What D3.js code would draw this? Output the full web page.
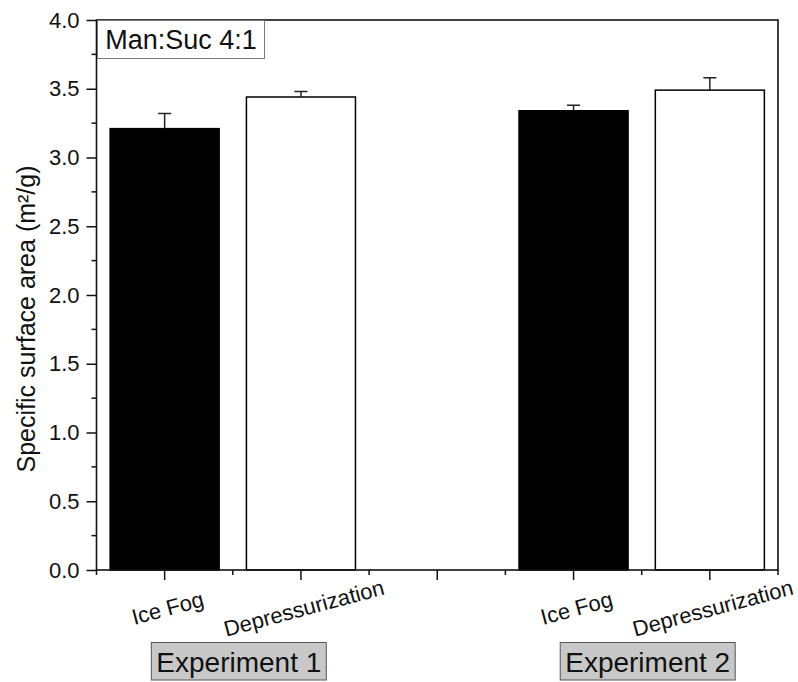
<!DOCTYPE html>
<html>
<head>
<meta charset="utf-8">
<script src="https://cdn.jsdelivr.net/npm/d3@7"></script>
<style>
  html, body { margin: 0; padding: 0; background: #fff; }
  svg { display: block; font-family: "Liberation Sans", Arial, sans-serif; }
</style>
</head>
<body>
<svg id="chart" width="798" height="682"></svg>
<script>
// Specific surface area by drying method, two experiments
const experiments = ["Experiment 1", "Experiment 2"];
const methods = ["Ice Fog", "Depressurization"];
const meanValues = [[3.21, 3.44], [3.34, 3.49]];   // m²/g
const errorValues = [[0.11, 0.04], [0.04, 0.09]];  // + error
const yTickValues = [0, 0.5, 1.0, 1.5, 2.0, 2.5, 3.0, 3.5, 4.0];
const yLabel = "Specific surface area (m²/g)";
const sampleNote = "Man:Suc 4:1";

// slot list: each experiment's methods, with an empty slot between experiments
const slots = [];
experiments.forEach((exp, ei) => {
  if (ei > 0) slots.push({ id: "gap" + ei, label: "", gap: true });
  methods.forEach((m, mi) => slots.push({
    id: exp + "|" + m, label: m, exp: ei, method: mi,
    mean: meanValues[ei][mi], err: errorValues[ei][mi]
  }));
});
const barSlots = slots.filter(s => !s.gap);

const svg = d3.select("#chart");
const plotL = 96.5, plotR = 778, plotT = 20, plotB = 570;

const x = d3.scaleBand().domain(slots.map(s => s.id))
  .range([plotL, plotR]).paddingInner(0.2).paddingOuter(0.1);
const step = x.step();
const y = d3.scaleLinear().domain([0, 4]).range([plotB, plotT]);

const ink = "#111";

// bars
svg.append("g").selectAll("rect").data(barSlots).join("rect")
  .attr("x", d => x(d.id))
  .attr("y", d => y(d.mean))
  .attr("width", x.bandwidth())
  .attr("height", d => y(0) - y(d.mean))
  .attr("fill", d => d.method === 0 ? "#000" : "#fff")
  .attr("stroke", "#000").attr("stroke-width", 1.5);

// upper error bars
const eb = svg.append("g").attr("stroke", "#222").attr("stroke-width", 1.5);
barSlots.forEach(d => {
  const cx = x(d.id) + x.bandwidth() / 2;
  eb.append("line").attr("x1", cx).attr("x2", cx)
    .attr("y1", y(d.mean)).attr("y2", y(d.mean + d.err));
  eb.append("line").attr("x1", cx - 6.5).attr("x2", cx + 6.5)
    .attr("y1", y(d.mean + d.err)).attr("y2", y(d.mean + d.err));
});

// y axis
const yAxis = svg.append("g").attr("transform", `translate(${plotL},0)`)
  .call(d3.axisLeft(y).tickValues(yTickValues).tickSize(10).tickPadding(7)
    .tickFormat(d3.format(".1f")));
yAxis.select(".domain").remove();
yAxis.selectAll(".tick line").attr("stroke", ink).attr("stroke-width", 1.5);
yAxis.selectAll(".tick text").attr("font-size", 22).attr("fill", ink)
  .attr("font-family", "Liberation Sans, Arial, sans-serif");
const yMinor = d3.range(0.25, 4, 0.5);
svg.append("g").selectAll("line").data(yMinor).join("line")
  .attr("x1", plotL - 5).attr("x2", plotL).attr("y1", d => y(d)).attr("y2", d => y(d))
  .attr("stroke", ink).attr("stroke-width", 1.5);

// x axis: major ticks at slot centres, minor ticks at slot boundaries
const xAxis = svg.append("g").attr("transform", `translate(0,${plotB})`)
  .call(d3.axisBottom(x).tickSize(10).tickFormat(""));
xAxis.select(".domain").remove();
xAxis.selectAll(".tick line").attr("stroke", ink).attr("stroke-width", 1.5);
const bounds = d3.range(slots.length + 1).map(i => plotL + i * step);
svg.append("g").selectAll("line").data(bounds).join("line")
  .attr("x1", d => d).attr("x2", d => d).attr("y1", plotB).attr("y2", plotB + 5)
  .attr("stroke", ink).attr("stroke-width", 1.5);

// rotated category labels
svg.append("g").selectAll("text").data(barSlots).join("text")
  .attr("transform", d => `translate(${x(d.id) + x.bandwidth() / 2 + 3},${608}) rotate(-15)`)
  .attr("text-anchor", "middle").attr("dy", "0.35em")
  .attr("font-size", 22).attr("fill", ink)
  .text(d => d.label);

// frame
svg.append("rect").attr("x", plotL).attr("y", plotT)
  .attr("width", plotR - plotL).attr("height", plotB - plotT)
  .attr("fill", "none").attr("stroke", ink).attr("stroke-width", 1.6);

// y axis title
svg.append("text")
  .attr("transform", `translate(35,319) rotate(-90)`)
  .attr("text-anchor", "middle").attr("font-size", 25).attr("fill", ink)
  .text(yLabel);

// sample note box
const note = svg.append("g");
note.append("rect").attr("x", 97.5).attr("y", 20.5).attr("width", 167).attr("height", 38)
  .attr("fill", "#fff").attr("stroke", "#777").attr("stroke-width", 1);
note.append("text").attr("x", 181).attr("y", 49).attr("text-anchor", "middle")
  .attr("font-size", 27).attr("fill", ink).text(sampleNote);

// experiment group labels
experiments.forEach((exp, ei) => {
  const ids = barSlots.filter(s => s.exp === ei).map(s => x(s.id) + x.bandwidth() / 2);
  const cx = d3.mean(ids) + 6;
  const g = svg.append("g");
  const t = g.append("text").attr("x", cx).attr("y", 672).attr("text-anchor", "middle")
    .attr("font-size", 28).attr("fill", ink).text(exp);
  const w = t.node().getComputedTextLength();
  g.insert("rect", "text").attr("x", cx - w / 2 - 5).attr("y", 642.5)
    .attr("width", w + 10).attr("height", 37.5)
    .attr("fill", "#c8c8c8").attr("stroke", "#555").attr("stroke-width", 1);
});
</script>
</body>
</html>
